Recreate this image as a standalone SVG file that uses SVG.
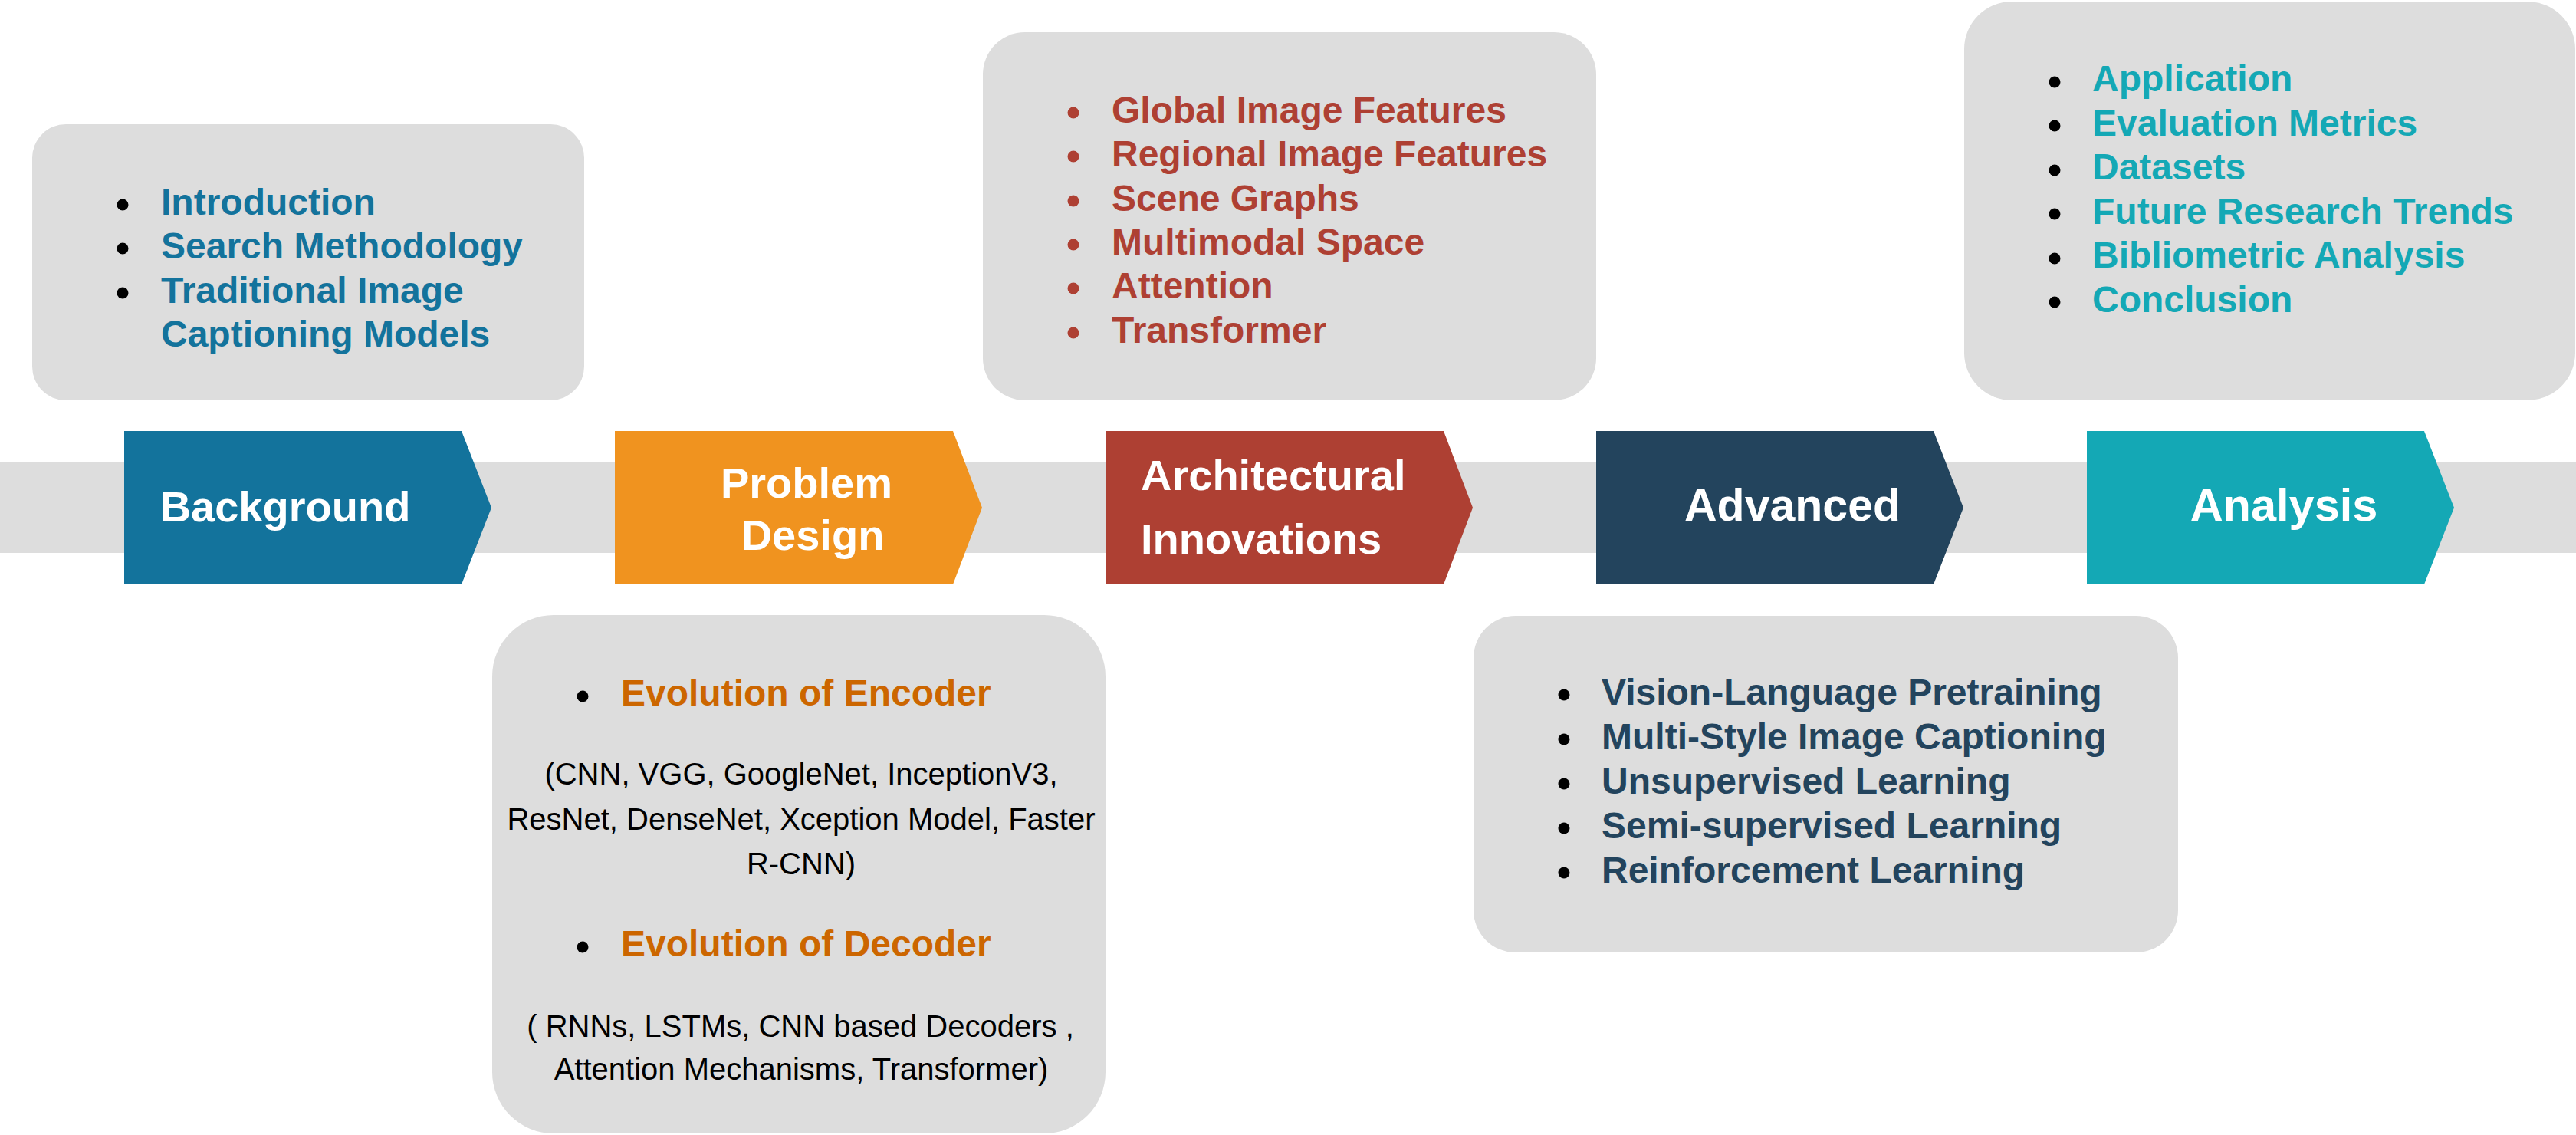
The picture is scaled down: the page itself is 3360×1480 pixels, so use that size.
<svg xmlns="http://www.w3.org/2000/svg" width="3360" height="1480" viewBox="0 0 3360 1480">
  <style>
    .panel { fill: #dddddd; }
    .bar { fill: #dddddd; }
    .stage { font-family: "Liberation Sans", Arial, sans-serif; font-weight: bold; fill: #ffffff; }
    .item { font-family: "Liberation Sans", Arial, sans-serif; font-weight: bold; font-size: 48px; }
    .note { font-family: "Liberation Sans", Arial, sans-serif; font-size: 40px; fill: #000000; text-anchor: middle; }
    .dot { fill: #000000; }
    .c-blue { fill: #13739c; }
    .c-orange { fill: #f0931f; }
    .c-red { fill: #ae4033; }
    .c-navy { fill: #23445d; }
    .c-teal { fill: #14a8b5; }
    .t-blue { fill: #13739c; }
    .t-orange { fill: #cc6600; }
    .t-red { fill: #ae4033; }
    .t-navy { fill: #23445d; }
    .t-teal { fill: #14a8b5; }
  </style>

  <rect width="3360" height="1480" fill="#ffffff"/>

  <!-- timeline band behind the stage chevrons -->
  <g id="connectors">
    <rect class="bar" x="0" y="602" width="3360" height="119"/>
  </g>

  <!-- Stage 1: Background -->
  <g id="stage-background">
    <polygon class="c-blue" points="162,562 602,562 641,662 602,762 162,762"/>
    <text class="stage" x="372" y="680" font-size="56" text-anchor="middle">Background</text>
  </g>
  <g id="panel-background">
    <rect class="panel" x="42" y="162" width="720" height="360" rx="44" ry="44"/>
    <circle class="dot" cx="160" cy="267" r="7.5"/>
    <circle class="dot" cx="160" cy="324" r="7.5"/>
    <circle class="dot" cx="160" cy="382" r="7.5"/>
    <text class="item t-blue" x="210" y="280">Introduction</text>
    <text class="item t-blue" x="210" y="337">Search Methodology</text>
    <text class="item t-blue" x="210" y="395">Traditional Image</text>
    <text class="item t-blue" x="210" y="452">Captioning Models</text>
  </g>

  <!-- Stage 2: Problem Design -->
  <g id="stage-problem-design">
    <polygon class="c-orange" points="802,562 1243,562 1281,662 1243,762 802,762"/>
    <text class="stage" x="1052" y="649" font-size="56" text-anchor="middle">Problem</text>
    <text class="stage" x="1060" y="717" font-size="56" text-anchor="middle">Design</text>
  </g>
  <g id="panel-problem-design">
    <rect class="panel" x="642" y="802" width="800" height="676" rx="80" ry="80"/>
    <circle class="dot" cx="760" cy="908" r="7.5"/>
    <text class="item t-orange" x="810" y="920">Evolution of Encoder</text>
    <text class="note" x="1045" y="1023">(CNN, VGG, GoogleNet, InceptionV3,</text>
    <text class="note" x="1045" y="1082">ResNet, DenseNet, Xception Model, Faster</text>
    <text class="note" x="1045" y="1140">R-CNN)</text>
    <circle class="dot" cx="760" cy="1235" r="7.5"/>
    <text class="item t-orange" x="810" y="1247">Evolution of Decoder</text>
    <text class="note" x="1044" y="1352">( RNNs, LSTMs, CNN based Decoders ,</text>
    <text class="note" x="1045" y="1408">Attention Mechanisms, Transformer)</text>
  </g>

  <!-- Stage 3: Architectural Innovations -->
  <g id="stage-architectural-innovations">
    <polygon class="c-red" points="1442,562 1883,562 1921,662 1883,762 1442,762"/>
    <text class="stage" x="1488" y="639" font-size="56">Architectural</text>
    <text class="stage" x="1488" y="722" font-size="56">Innovations</text>
  </g>
  <g id="panel-architectural-innovations">
    <rect class="panel" x="1282" y="42" width="800" height="480" rx="55" ry="55"/>
    <g class="t-red">
      <circle cx="1400" cy="147" r="7.5"/>
      <circle cx="1400" cy="204" r="7.5"/>
      <circle cx="1400" cy="262" r="7.5"/>
      <circle cx="1400" cy="319" r="7.5"/>
      <circle cx="1400" cy="376" r="7.5"/>
      <circle cx="1400" cy="434" r="7.5"/>
    </g>
    <text class="item t-red" x="1450" y="160">Global Image Features</text>
    <text class="item t-red" x="1450" y="217">Regional Image Features</text>
    <text class="item t-red" x="1450" y="275">Scene Graphs</text>
    <text class="item t-red" x="1450" y="332">Multimodal Space</text>
    <text class="item t-red" x="1450" y="389">Attention</text>
    <text class="item t-red" x="1450" y="447">Transformer</text>
  </g>

  <!-- Stage 4: Advanced -->
  <g id="stage-advanced">
    <polygon class="c-navy" points="2082,562 2522,562 2561,662 2522,762 2082,762"/>
    <text class="stage" x="2338" y="679" font-size="59" text-anchor="middle">Advanced</text>
  </g>
  <g id="panel-advanced">
    <rect class="panel" x="1922" y="803" width="919" height="439" rx="55" ry="55"/>
    <circle class="dot" cx="2040" cy="906" r="7.5"/>
    <circle class="dot" cx="2040" cy="964" r="7.5"/>
    <circle class="dot" cx="2040" cy="1022" r="7.5"/>
    <circle class="dot" cx="2040" cy="1080" r="7.5"/>
    <circle class="dot" cx="2040" cy="1138" r="7.5"/>
    <text class="item t-navy" x="2089" y="919">Vision-Language Pretraining</text>
    <text class="item t-navy" x="2089" y="977">Multi-Style Image Captioning</text>
    <text class="item t-navy" x="2089" y="1035">Unsupervised Learning</text>
    <text class="item t-navy" x="2089" y="1093">Semi-supervised Learning</text>
    <text class="item t-navy" x="2089" y="1151">Reinforcement Learning</text>
  </g>

  <!-- Stage 5: Analysis -->
  <g id="stage-analysis">
    <polygon class="c-teal" points="2722,562 3162,562 3201,662 3162,762 2722,762"/>
    <text class="stage" x="2979" y="679" font-size="59.5" text-anchor="middle">Analysis</text>
  </g>
  <g id="panel-analysis">
    <rect class="panel" x="2562" y="2" width="797" height="520" rx="62" ry="62"/>
    <circle class="dot" cx="2680" cy="107" r="7.5"/>
    <circle class="dot" cx="2680" cy="164" r="7.5"/>
    <circle class="dot" cx="2680" cy="222" r="7.5"/>
    <circle class="dot" cx="2680" cy="279" r="7.5"/>
    <circle class="dot" cx="2680" cy="337" r="7.5"/>
    <circle class="dot" cx="2680" cy="394" r="7.5"/>
    <text class="item t-teal" x="2729" y="119">Application</text>
    <text class="item t-teal" x="2729" y="177">Evaluation Metrics</text>
    <text class="item t-teal" x="2729" y="234">Datasets</text>
    <text class="item t-teal" x="2729" y="292">Future Research Trends</text>
    <text class="item t-teal" x="2729" y="349">Bibliometric Analysis</text>
    <text class="item t-teal" x="2729" y="407">Conclusion</text>
  </g>
</svg>
